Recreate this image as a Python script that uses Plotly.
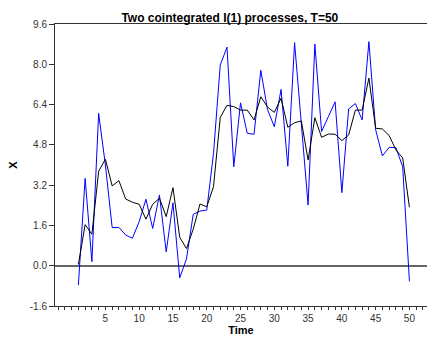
import plotly.graph_objects as go

# Two cointegrated I(1) series observed over T = 50 periods
time = list(range(1, 51))

x_series = [
    -0.77, 3.47, 0.16, 6.05, 4.0, 1.52, 1.52, 1.22, 1.09, 1.75,
    2.64, 1.48, 2.81, 0.55, 2.50, -0.48, 0.27, 2.04, 2.17, 2.21,
    4.46, 7.97, 8.68, 3.93, 6.47, 5.26, 5.22, 7.76, 6.20, 5.52,
    7.00, 3.95, 8.86, 5.60, 2.41, 8.80, 5.33, 5.92, 6.51, 2.90,
    6.23, 6.44, 5.79, 8.90, 5.40, 4.36, 4.70, 4.69, 3.93, -0.62,
]

y_series = [
    0.05, 1.63, 1.25, 3.75, 4.23, 3.17, 3.38, 2.65, 2.52, 2.44,
    1.85, 2.44, 2.68, 1.95, 3.10, 1.13, 0.68, 1.45, 2.45, 2.34,
    3.14, 5.89, 6.37, 6.32, 6.18, 6.18, 5.79, 6.71, 6.30, 6.09,
    6.65, 5.50, 5.68, 5.75, 4.20, 5.88, 5.10, 5.23, 5.22, 4.97,
    5.19, 6.18, 6.18, 7.45, 5.46, 5.43, 5.17, 4.60, 4.28, 2.32,
]

y_ticks = [-1.6, 0.0, 1.6, 3.2, 4.8, 6.4, 8.0, 9.6]
x_ticks = [5, 10, 15, 20, 25, 30, 35, 40, 45, 50]

FONT = "Liberation Sans Narrow, Arial Narrow, Liberation Sans, Arial, sans-serif"

fig = go.Figure()
fig.add_trace(go.Scatter(x=time, y=x_series, mode="lines",
                         line=dict(color="#0000ff", width=1), name="x"))
fig.add_trace(go.Scatter(x=time, y=y_series, mode="lines",
                         line=dict(color="#000000", width=1), name="y"))

fig.update_layout(
    width=427, height=339,
    margin=dict(l=55, r=0, t=24, b=33),
    paper_bgcolor="white", plot_bgcolor="white",
    showlegend=False,
    font=dict(family=FONT, size=10, color="#222"),
    title=dict(text="<b>Two cointegrated I(1) processes, T=50</b>",
               x=0.47, xref="paper", xanchor="center",
               y=1.0, yref="paper", yanchor="bottom", pad=dict(b=2),
               font=dict(family=FONT, size=12, color="#000")),
)

fig.update_xaxes(
    range=[-2.46, 52.6],
    tickmode="array", tickvals=x_ticks,
    ticks="outside", ticklen=3, tickcolor="#333",
    minor=dict(dtick=1, tick0=0, ticks="outside", ticklen=3, tickcolor="#333"),
    showline=True, linecolor="#333", linewidth=1, mirror=True,
    showgrid=False, zeroline=False,
    tickfont=dict(size=10, color="#333"),
    title=dict(text="<b>Time</b>", standoff=2,
               font=dict(size=11, color="#000")),
)

fig.update_yaxes(
    range=[-1.6, 9.6],
    tickmode="array", tickvals=y_ticks,
    ticktext=[f"{v:.1f}" for v in y_ticks],
    ticks="outside", ticklen=5, tickcolor="#333",
    showline=True, linecolor="#333", linewidth=1,
    showgrid=False,
    zeroline=True, zerolinecolor="#666", zerolinewidth=1.5,
    tickfont=dict(size=10, color="#333"),
    title=dict(text="<b>X</b>", standoff=9,
               font=dict(size=11, color="#000")),
)

fig.write_html("out.html")
